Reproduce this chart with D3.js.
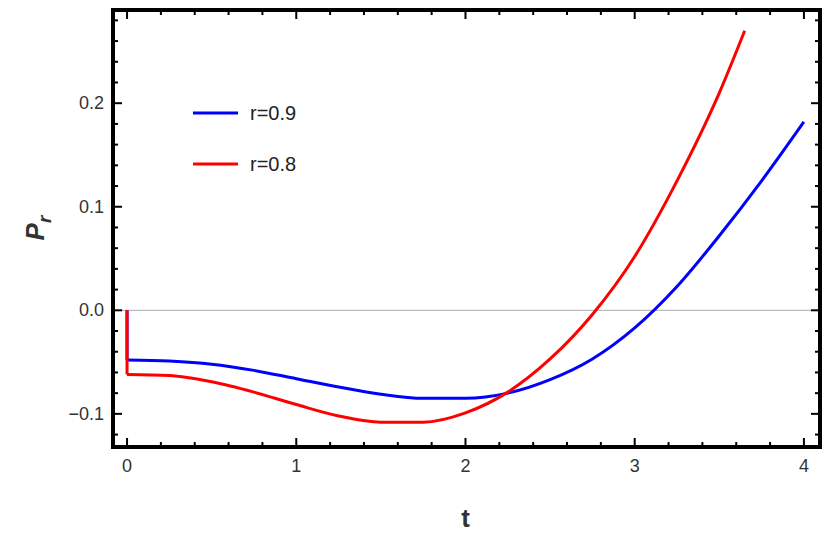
<!DOCTYPE html>
<html><head><meta charset="utf-8">
<script src="https://cdn.jsdelivr.net/npm/d3@7"></script>
<style>body{margin:0;background:#fff}svg{font-family:"Liberation Sans",Arial,sans-serif}</style>
</head><body><svg id="c" width="830" height="542"></svg>
<script>
const tBlue=[0,0.25,0.5,0.75,1,1.25,1.5,1.75,2,2.25,2.5,2.75,3,3.25,3.5,3.75,4];
const pBlue=[-0.048,-0.049,-0.052,-0.058,-0.066,-0.074,-0.081,-0.085,-0.085,-0.080,-0.067,-0.047,-0.017,0.023,0.072,0.125,0.182];
const tRed=[0,0.25,0.5,0.75,1,1.25,1.5,1.75,2,2.25,2.5,2.75,3,3.25,3.5,3.65];
const pRed=[-0.062,-0.063,-0.069,-0.079,-0.091,-0.102,-0.108,-0.108,-0.099,-0.079,-0.047,-0.004,0.052,0.125,0.210,0.270];
const xTicks=[0,1,2,3,4];
const yTicks=[-0.1,0,0.1,0.2];
const yTickLabels=["\u22120.1","0.0","0.1","0.2"];
const legendLabels=["r=0.9","r=0.8"];

const svg=d3.select("#c");
const L=113,R=820,T=10,B=447;
const x=d3.scaleLinear().domain([-0.083,4.095]).range([L,R]);
const y=d3.scaleLinear().domain([-0.132,0.29]).range([B,T]);

svg.append("line").attr("x1",L).attr("x2",R).attr("y1",y(0)).attr("y2",y(0)).attr("stroke","#aaa").attr("stroke-width",1);

const line=d3.line().x(d=>x(d[0])).y(d=>y(d[1])).curve(d3.curveMonotoneX);
const seg=d3.line().x(d=>x(d[0])).y(d=>y(d[1]));
svg.append("path").attr("d",seg([[0,0],[0,pBlue[0]]])).attr("stroke","#0000ff").attr("stroke-width",3).attr("fill","none");
svg.append("path").attr("d",line(tBlue.map((t,i)=>[t,pBlue[i]]))).attr("stroke","#0000ff").attr("stroke-width",3).attr("fill","none");
svg.append("path").attr("d",seg([[0,0],[0,pRed[0]]])).attr("stroke","#ff0000").attr("stroke-width",3).attr("fill","none");
svg.append("path").attr("d",line(tRed.map((t,i)=>[t,pRed[i]]))).attr("stroke","#ff0000").attr("stroke-width",3).attr("fill","none");

const g=svg.append("g").attr("stroke","#000");
d3.range(-0.12,0.29,0.02).forEach(v=>{
  const major=yTicks.some(t=>Math.abs(t-v)<1e-6);
  const len=major?9:5;
  g.append("line").attr("x1",L).attr("x2",L+len).attr("y1",y(v)).attr("y2",y(v)).attr("stroke-width",2);
  g.append("line").attr("x1",R).attr("x2",R-len).attr("y1",y(v)).attr("y2",y(v)).attr("stroke-width",2);
});
d3.range(0,4.01,0.2).forEach(v=>{
  const major=Math.abs(v-Math.round(v))<1e-6;
  const len=major?9:5;
  g.append("line").attr("x1",x(v)).attr("x2",x(v)).attr("y1",B).attr("y2",B-len).attr("stroke-width",2);
  g.append("line").attr("x1",x(v)).attr("x2",x(v)).attr("y1",T).attr("y2",T+len).attr("stroke-width",2);
});
svg.append("rect").attr("x",L).attr("y",T).attr("width",R-L).attr("height",B-T).attr("fill","none").attr("stroke","#000").attr("stroke-width",4);

xTicks.forEach(v=>svg.append("text").attr("x",x(v)).attr("y",B+25).attr("text-anchor","middle").attr("font-size",18).attr("fill","#333").text(v));
yTicks.forEach((v,i)=>svg.append("text").attr("x",L-9).attr("y",y(v)+6).attr("text-anchor","end").attr("font-size",18).attr("fill","#333").text(yTickLabels[i]));

svg.append("text").attr("x",x(2)).attr("y",527).attr("text-anchor","middle").attr("font-size",26).attr("font-weight","bold").attr("fill","#333").text("t");
const yl=svg.append("text").attr("transform","translate(44,228) rotate(-90)").attr("text-anchor","middle").attr("font-size",26).attr("font-weight","bold").attr("font-style","italic").attr("fill","#333");
yl.append("tspan").text("P");
yl.append("tspan").attr("font-size",19).attr("dy",7).text("r");

[["#0000ff",113],["#ff0000",164]].forEach((c,i)=>{
  svg.append("line").attr("x1",193).attr("x2",238).attr("y1",c[1]).attr("y2",c[1]).attr("stroke",c[0]).attr("stroke-width",3);
  svg.append("text").attr("x",250).attr("y",c[1]+7).attr("font-size",20).attr("fill","#222").text(legendLabels[i]);
});
</script></body></html>
